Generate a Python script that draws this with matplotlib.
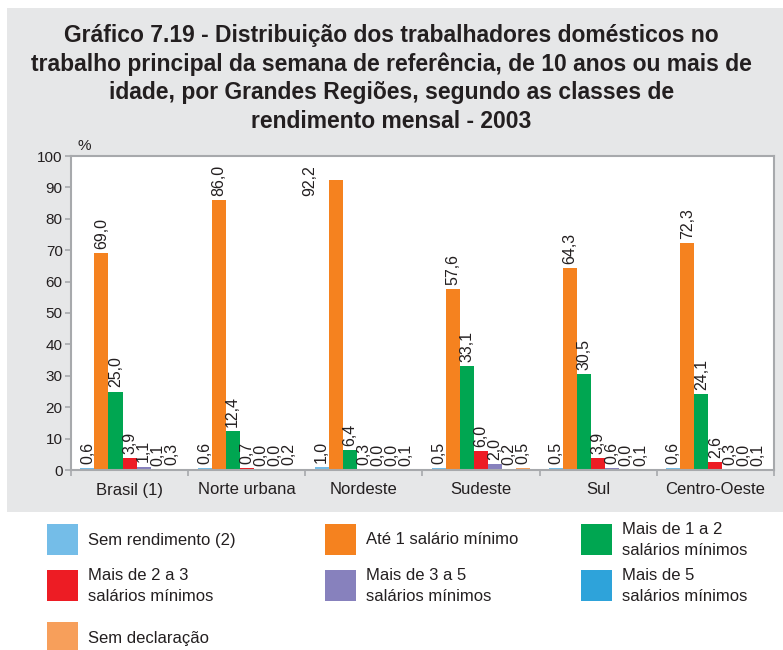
import numpy as np
import matplotlib.pyplot as plt
from matplotlib.patches import Rectangle
from matplotlib import font_manager

# Regions and income classes
regioes = ['Brasil (1)', 'Norte urbana', 'Nordeste', 'Sudeste', 'Sul', 'Centro-Oeste']
classes = ['Sem rendimento (2)', 'Até 1 salário mínimo', 'Mais de 1 a 2\nsalários mínimos',
           'Mais de 2 a 3\nsalários mínimos', 'Mais de 3 a 5\nsalários mínimos',
           'Mais de 5\nsalários mínimos', 'Sem declaração']
cores = ['#74BDE8', '#F5821F', '#00A651', '#ED1C24', '#8781BD', '#2EA3DA', '#F79F5B']

# Percentages per class, one value per region
sem_rendimento = [0.6, 0.6, 1.0, 0.5, 0.5, 0.6]
ate_1 = [69.0, 86.0, 92.2, 57.6, 64.3, 72.3]
de_1_a_2 = [25.0, 12.4, 6.4, 33.1, 30.5, 24.1]
de_2_a_3 = [3.9, 0.7, 0.3, 6.0, 3.9, 2.6]
de_3_a_5 = [1.1, 0.0, 0.0, 2.0, 0.6, 0.3]
mais_5 = [0.1, 0.0, 0.0, 0.2, 0.0, 0.0]
sem_declaracao = [0.3, 0.2, 0.1, 0.5, 0.1, 0.1]
series = [sem_rendimento, ate_1, de_1_a_2, de_2_a_3, de_3_a_5, mais_5, sem_declaracao]

nomes = {f.name for f in font_manager.fontManager.ttflist}
normal = 'Liberation Sans' if 'Liberation Sans' in nomes else 'DejaVu Sans'

texto = '#231F20'
cinza = '#E6E7E8'

fig = plt.figure(figsize=(7.83, 6.5), dpi=100)
fig.patch.set_facecolor('white')
fig.patches.append(Rectangle((7 / 783, 1 - 512 / 650), 1, (512 - 8) / 650,
                             transform=fig.transFigure, facecolor=cinza,
                             edgecolor='none', zorder=-10))

titulo = ['Gráfico 7.19 - Distribuição dos trabalhadores domésticos no',
          'trabalho principal da semana de referência, de 10 anos ou mais de',
          'idade, por Grandes Regiões, segundo as classes de',
          'rendimento mensal - 2003']
for i, linha in enumerate(titulo):
    fig.text(0.5, 1 - (42 + 28.5 * i) / 650, linha, ha='center', va='baseline',
             fontsize=16.5, fontweight='bold', family=normal, color=texto)

ax = fig.add_axes([71 / 783, 1 - 470 / 650, (774 - 71) / 783, (470 - 156) / 650])
ax.set_facecolor('white')

x = np.arange(len(regioes))
largura = 0.12
n = len(series)
for j, valores in enumerate(series):
    pos = x + (j - (n - 1) / 2) * largura
    ax.bar(pos, valores, width=largura, color=cores[j], zorder=2)
    for k, v in enumerate(valores):
        rot = f'{v:.1f}'.replace('.', ',')
        if v > 90:
            # too tall for the axis: put the label beside the bar
            ax.annotate(rot, (pos[k] - largura / 2, v), xytext=(-8, 0),
                        textcoords='offset points', rotation=90, ha='right',
                        va='center', fontsize=11.5, family=normal, color=texto)
        else:
            ax.annotate(rot, (pos[k], v), xytext=(0, 3), textcoords='offset points',
                        rotation=90, ha='center', va='bottom', fontsize=11.5,
                        family=normal, color=texto)

ax.set_xlim(-0.5, len(regioes) - 0.5)
ax.set_ylim(0, 100)
ax.set_yticks(np.arange(0, 101, 10))
ax.set_xticks(np.arange(-0.5, len(regioes), 1))
ax.set_xticklabels([])
ax.set_xticks(x, minor=True)
ax.set_xticklabels(regioes, minor=True, fontsize=12, family=normal, color=texto)
ax.tick_params(axis='x', which='minor', length=0, pad=9)
ax.tick_params(axis='x', which='major', length=4, color='#A7A9AC', width=1.2)
ax.tick_params(axis='y', length=4, color='#A7A9AC', width=1.2, pad=2,
               labelsize=11, labelcolor=texto)
for lab in ax.get_yticklabels():
    lab.set_family(normal)
for s in ax.spines.values():
    s.set_color('#A7A9AC')
    s.set_linewidth(1.5)

fig.text(78 / 783, 1 - 146 / 650, '%', ha='left', va='center', fontsize=11,
         family=normal, color=texto)

# Legend drawn as swatches and labels under the chart
colunas = [47, 325, 581]
linhas = [524, 570, 622]
for j, nome in enumerate(classes):
    cx = colunas[j % 3]
    cy = linhas[j // 3]
    fig.patches.append(Rectangle((cx / 783, 1 - (cy + 31) / 650), 31 / 783, 31 / 650,
                                 transform=fig.transFigure, facecolor=cores[j],
                                 edgecolor='none'))
    fig.text((cx + 41) / 783, 1 - (cy + 16) / 650, nome, ha='left', va='center',
             fontsize=12, family=normal, color=texto, linespacing=1.45)

fig.savefig('out.png', dpi=100)
